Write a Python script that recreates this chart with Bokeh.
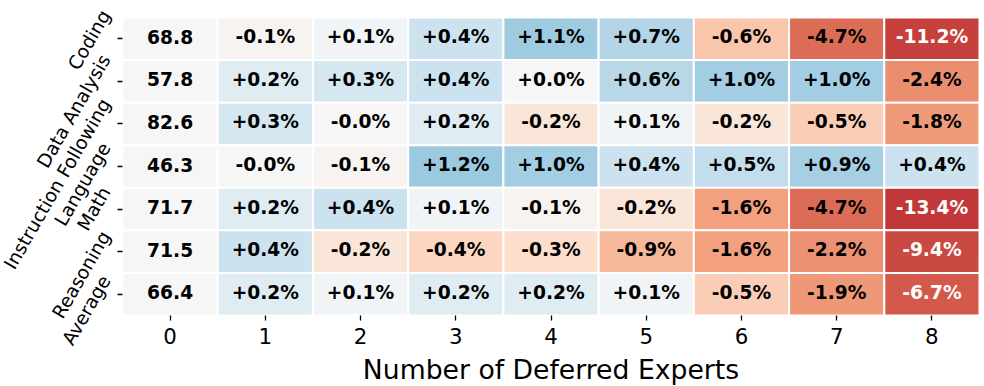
import math
from bokeh.plotting import figure
from bokeh.models import (ColumnDataSource, LinearColorMapper, FixedTicker, Range1d,
                          LinearAxis)
from bokeh.transform import transform
from bokeh.core.properties import value
from bokeh.palettes import interp_palette
from bokeh.embed import file_html
from bokeh.resources import INLINE

# ---------------- data ----------------
categories = ["Coding", "Data Analysis", "Instruction Following", "Language",
              "Math", "Reasoning", "Average"]
n_deferred = [0, 1, 2, 3, 4, 5, 6, 7, 8]
baseline_scores = [68.8, 57.8, 82.6, 46.3, 71.7, 71.5, 66.4]

delta_coding = [-0.1, 0.1, 0.4, 1.1, 0.7, -0.6, -4.7, -11.2]
delta_data_analysis = [0.2, 0.3, 0.4, 0.0, 0.6, 1.0, 1.0, -2.4]
delta_instruction = [0.3, -0.0, 0.2, -0.2, 0.1, -0.2, -0.5, -1.8]
delta_language = [-0.0, -0.1, 1.2, 1.0, 0.4, 0.5, 0.9, 0.4]
delta_math = [0.2, 0.4, 0.1, -0.1, -0.2, -1.6, -4.7, -13.4]
delta_reasoning = [0.4, -0.2, -0.4, -0.3, -0.9, -1.6, -2.2, -9.4]
delta_average = [0.2, 0.1, 0.2, 0.2, 0.1, -0.5, -1.9, -6.7]

deltas = [delta_coding, delta_data_analysis, delta_instruction, delta_language,
          delta_math, delta_reasoning, delta_average]

rdbu = ["#67001f", "#b2182b", "#d6604d", "#f4a582", "#fddbc7", "#f7f7f7",
        "#d1e5f0", "#92c5de", "#4393c3", "#2166ac", "#053061"]

# ---------------- layout constants (pixels) ----------------
FONT = "DejaVu Sans"
W, H = 984, 386
HM_LEFT, HM_RIGHT, HM_TOP, HM_BOTTOM = 122, 979, 17, 315   # heatmap area
NCOL, NROW = len(n_deferred), len(categories)
px_x = (HM_RIGHT - HM_LEFT) / NCOL
px_y = (HM_BOTTOM - HM_TOP) / NROW

# ---------------- build table ----------------
def color_value(d):
    # signed log-magnitude used for the colour scale (symlog-like norm)
    if d == 0:
        return 0.0
    return math.copysign(max(0.0, math.log(abs(d)) + 2.47), d)

xs, ys, cvals, labels, tcolors = [], [], [], [], []
for r, cat in enumerate(categories):
    xs.append(n_deferred[0]); ys.append(r); cvals.append(0.0)
    labels.append(f"{baseline_scores[r]:.1f}"); tcolors.append("black")
    for c, d in enumerate(deltas[r]):
        cv = color_value(d)
        xs.append(n_deferred[c + 1]); ys.append(r); cvals.append(cv)
        labels.append(f"{d:+.1f}%")
        tcolors.append("white" if cv < -4.2 else "black")

src = ColumnDataSource(dict(x=xs, y=ys, c=cvals, t=labels, tc=tcolors))

lim = 1.0 / (2 * 0.07)
mapper = LinearColorMapper(palette=interp_palette(rdbu, 256), low=-lim, high=lim)

# ---------------- figure: frame covers the whole canvas ----------------
x0 = -0.5 - HM_LEFT / px_x
x1 = NCOL - 0.5 + (W - HM_RIGHT) / px_x
y_top = -0.5 - HM_TOP / px_y
y_bot = NROW - 0.5 + (H - HM_BOTTOM) / px_y

p = figure(width=W, height=H, output_backend="svg", toolbar_location=None,
           tools="", x_range=Range1d(x0, x1), y_range=Range1d(y_bot, y_top),
           x_axis_location=None, y_axis_location=None, min_border=0)
p.outline_line_color = None
p.xgrid.visible = False
p.ygrid.visible = False
p.background_fill_color = "white"
p.border_fill_color = "white"

p.rect(x="x", y="y", width=1, height=1, source=src,
       fill_color=transform("c", mapper), line_color="white", line_width=2)

p.text(x="x", y="y", text="t", source=src, text_align="center",
       text_baseline="middle", text_color="tc", text_font=value(FONT),
       text_font_style="bold", text_font_size="18.67px", y_offset=-2)

# x axis along the bottom edge of the heatmap
xa = LinearAxis(fixed_location=NROW - 0.5, bounds=(-0.5, NCOL - 0.5))
xa.ticker = FixedTicker(ticks=n_deferred)
xa.axis_line_color = None
xa.major_tick_in = 0
xa.major_tick_out = 5
xa.major_tick_line_width = 1.3
xa.major_tick_line_color = "black"
xa.minor_tick_line_color = None
xa.major_label_text_font = FONT
xa.major_label_text_font_size = "21.33px"
xa.major_label_text_color = "black"
xa.major_label_standoff = 7
xa.axis_label = "Number of Deferred Experts"
xa.axis_label_text_font = FONT
xa.axis_label_text_font_size = "26.67px"
xa.axis_label_text_font_style = "normal"
xa.axis_label_text_color = "black"
xa.axis_label_standoff = 7
p.add_layout(xa, "below")

# y tick marks along the left edge of the heatmap
ya = LinearAxis(fixed_location=-0.5, bounds=(-0.5, NROW - 0.5))
ya.ticker = FixedTicker(ticks=list(range(NROW)))
ya.major_label_overrides = {i: "" for i in range(NROW)}
ya.axis_line_color = None
ya.major_tick_in = 0
ya.major_tick_out = 5
ya.major_tick_line_width = 1.3
ya.major_tick_line_color = "black"
ya.minor_tick_line_color = None
ya.major_label_standoff = 0
p.add_layout(ya, "left")

# rotated category names (ends sit a little above each row, as in the original)
lab_src = ColumnDataSource(dict(
    x=[-0.5 - 17 / px_x] * NROW,
    y=[r + (-22.1 + 1.63 * (r - 3)) / px_y for r in range(NROW)],
    t=categories))
p.text(x="x", y="y", text="t", source=lab_src, angle=60, angle_units="deg",
       text_align="right", text_baseline="middle", text_color="black",
       text_font=value(FONT), text_font_size="18.67px")

open("out.html", "w").write(file_html(p, INLINE))
